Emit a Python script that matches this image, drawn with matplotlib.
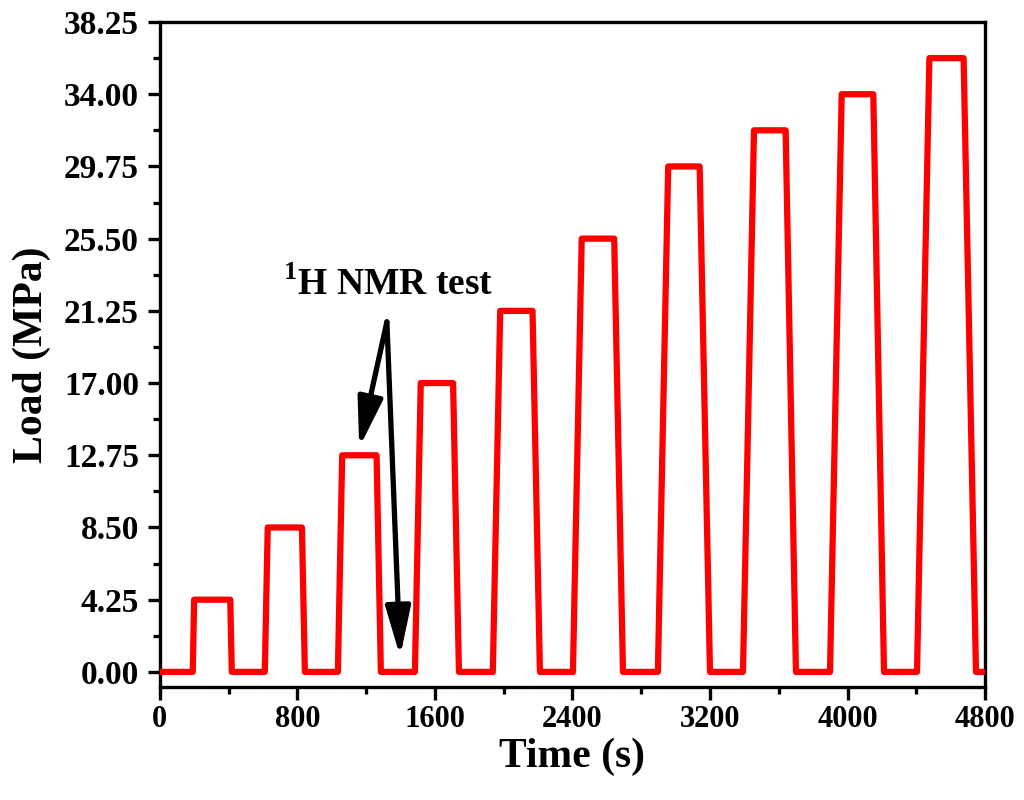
import matplotlib
matplotlib.use("Agg")
import matplotlib.pyplot as plt
from matplotlib.ticker import MultipleLocator

plt.rcParams['font.family'] = ['Liberation Serif', 'DejaVu Serif']
plt.rcParams['font.weight'] = 'bold'
plt.rcParams['mathtext.fontset'] = 'custom'
plt.rcParams['mathtext.rm'] = 'Liberation Serif'
plt.rcParams['mathtext.bf'] = 'Liberation Serif:bold'

# Polyline vertices of the loading schedule (time in s, load in MPa)
time_s = [0, 192, 200, 410, 419,
          611, 628, 827, 844,
          1036, 1061, 1261, 1286,
          1484, 1518, 1706, 1740,
          1937, 1980, 2168, 2211,
          2403, 2454, 2643, 2694,
          2897, 2957, 3140, 3200,
          3392, 3456, 3640, 3700,
          3898, 3966, 4150, 4212,
          4404, 4476, 4675, 4747, 4800]
load_mpa = [0, 0, 4.25, 4.25, 0,
            0, 8.5, 8.5, 0,
            0, 12.75, 12.75, 0,
            0, 17.0, 17.0, 0,
            0, 21.25, 21.25, 0,
            0, 25.5, 25.5, 0,
            0, 29.75, 29.75, 0,
            0, 31.875, 31.875, 0,
            0, 34.0, 34.0, 0,
            0, 36.125, 36.125, 0, 0]

x_ticks = [0, 800, 1600, 2400, 3200, 4000, 4800]
y_ticks = [0.00, 4.25, 8.50, 12.75, 17.00, 21.25, 25.50, 29.75, 34.00, 38.25]

annot_text = r'$^{\mathbf{1}}$H NMR test'
arrow_origin = (1321, 20.6)
arrow_tips = [(1160, 13.2), (1398, 0.9)]

fig = plt.figure(figsize=(10.24, 8.0), dpi=100)
ax = fig.add_axes([0.156, 0.141, 0.806, 0.8315])

ax.plot(time_s, load_mpa, color='#ff0000', lw=4.5, solid_joinstyle='round',
        solid_capstyle='butt', zorder=3)

ax.set_xlim(0, 4800)
ax.set_ylim(-0.9, 38.25)
ax.set_xticks(x_ticks)
ax.set_yticks(y_ticks)
ax.set_yticklabels([f'{v:.2f}' for v in y_ticks])
ax.xaxis.set_minor_locator(MultipleLocator(400))
ax.yaxis.set_minor_locator(MultipleLocator(2.125))

for s in ax.spines.values():
    s.set_linewidth(2.4)
ax.tick_params(which='major', direction='out', length=9, width=2.4, pad=6)
ax.tick_params(which='minor', direction='out', length=5, width=2.4)
ax.tick_params(axis='x', labelsize=22, pad=4)
ax.tick_params(axis='y', labelsize=24)
ax.tick_params(top=False, right=False, which='both')
for lab in ax.get_xticklabels() + ax.get_yticklabels():
    lab.set_fontweight('bold')

ax.set_xlabel('Time (s)', fontsize=30, fontweight='bold', labelpad=2)
ax.set_ylabel('Load (MPa)', fontsize=30, fontweight='bold', labelpad=9)

ax.text(1326, 22.8, annot_text, fontsize=27, fontweight='bold',
        ha='center', va='center')
for tip in arrow_tips:
    ax.annotate('', xy=tip, xytext=arrow_origin,
                arrowprops=dict(arrowstyle='-|>,head_length=1.5,head_width=0.38',
                                mutation_scale=20, lw=3.8, color='black',
                                shrinkA=0, shrinkB=0), zorder=4)

fig.savefig('out.png', dpi=100)
